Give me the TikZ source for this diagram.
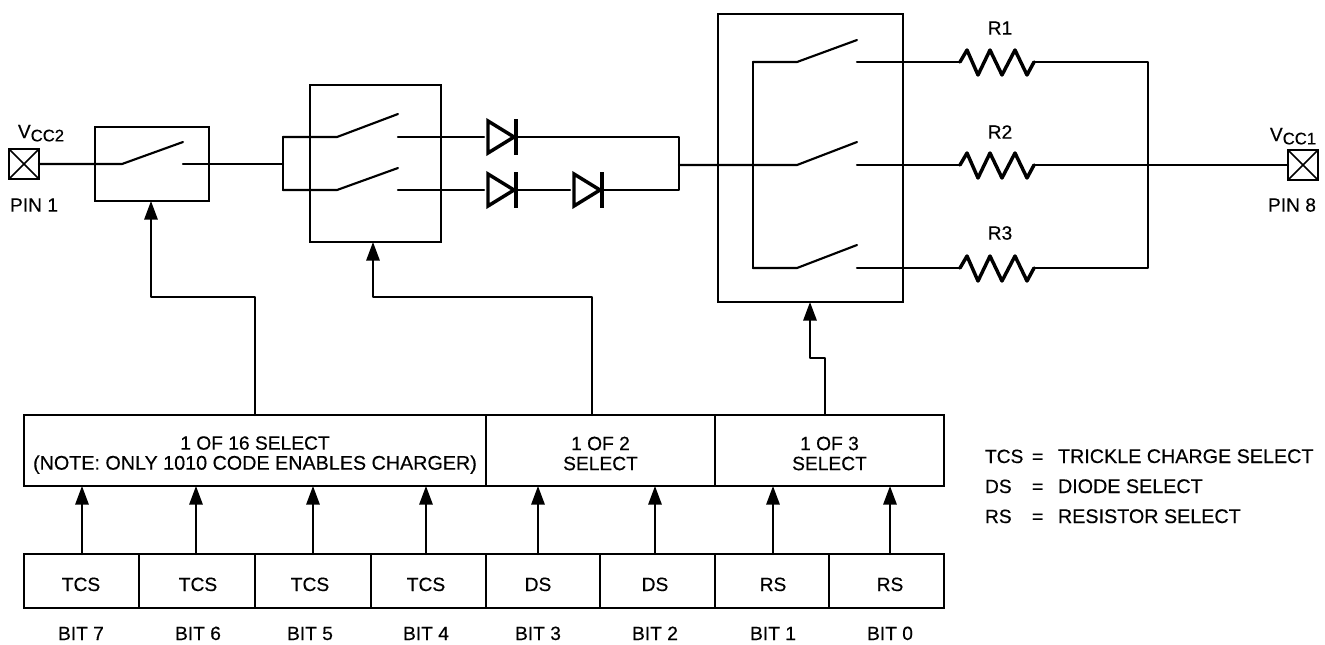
\documentclass[tikz,border=0pt]{standalone}
\usepackage{fontspec}
\setmainfont{Liberation Sans}[FakeBold=0.35]
\usetikzlibrary{arrows.meta}
\tikzset{
    wire/.style={line width=1.6pt,line cap=round,line join=round},
    sigarrow/.style={wire,-{Triangle[length=14pt,width=10pt]}},
    sized/.style 2 args={minimum width=#1*0.75pt,minimum height=#2*0.75pt,inner sep=0pt,outer sep=0pt},
    block/.style 2 args={draw,line width=1.6pt,sized={#1}{#2}},
    txt/.style={inner sep=0pt,outer sep=0pt,align=center,font=\fontsize{14.4}{15}\selectfont},
    diode/.pic={
        \draw[line width=2.6pt,line join=miter] (-13,-16) -- (13,0) -- (-13,16) -- cycle;
        \draw[line width=2.6pt] (15,-18) -- (15,18);
    },
    zigzag/.pic={
        \draw[line width=2.6pt,line join=round,line cap=round] (-37,0) -- (-30,-12) -- (-19,13) -- (-7,-12) -- (5,13) -- (18,-12) -- (30,13) -- (37,0);
    }
}
\begin{document}
\begin{tikzpicture}[x=0.75pt,y=-0.75pt]
    \useasboundingbox (0,0) rectangle (1325,644);

    % switch boxes
    \node[block={114}{74}] (boxa) at (152,164) {};
    \node[block={131}{157}] (boxb) at (375.5,163.5) {};
    \node[block={185}{288}] (boxc) at (810.5,158) {};

    % pins
    \node[block={30}{30}] (pina) at (24,164) {};
    \node[block={30}{30}] (pinb) at (1303,165) {};
    \draw[line width=1.2pt] (pina.north west) -- (pina.south east);
    \draw[line width=1.2pt] (pina.north east) -- (pina.south west);
    \draw[line width=1.2pt] (pinb.north west) -- (pinb.south east);
    \draw[line width=1.2pt] (pinb.north east) -- (pinb.south west);
    \node[txt,anchor=base] (vcca) at (41,138) {V\raisebox{-2.5pt}{\fontsize{12.5}{13}\selectfont CC2}};
    \node[txt] (pinla) at (34,205) {PIN 1};
    \node[txt,anchor=base] (vccb) at (1293,141) {V\raisebox{-2.5pt}{\fontsize{12.5}{13}\selectfont CC1}};
    \node[txt] (pinlb) at (1292,205) {PIN 8};

    % first switch
    \coordinate (hingea) at (122,164);
    \coordinate (tipa) at (183,142);
    \coordinate (conta) at (183,164);
    \coordinate (joinb) at (283,164);
    \draw[wire] (pina.east) -- (hingea) -- (tipa);
    \draw[wire] (conta) -- (joinb);

    % second switch
    \coordinate (joinbt) at (283,137);
    \coordinate (joinbb) at (283,190);
    \coordinate (hingeb) at (337,137);
    \coordinate (tipb) at (398,114);
    \coordinate (contb) at (398,137);
    \coordinate (hingec) at (337,190);
    \coordinate (tipc) at (398,168);
    \coordinate (contc) at (398,190);
    \draw[wire] (joinbt) -- (joinbb);
    \draw[wire] (joinbt) -- (hingeb) -- (tipb);
    \draw[wire] (joinbb) -- (hingec) -- (tipc);

    % diodes
    \node[sized={34}{36}] (diodea) at (501,137) {};
    \node[sized={34}{36}] (diodeb) at (501,190) {};
    \node[sized={34}{36}] (diodec) at (587,190) {};
    \pic at (diodea) {diode};
    \pic at (diodeb) {diode};
    \pic at (diodec) {diode};
    \coordinate (joincb) at (679,190);
    \coordinate (joinct) at (679,137);
    \coordinate (joinc) at (679,165);
    \draw[wire] (contb) -- (contb -| diodea.west);
    \draw[wire] (contc) -- (contc -| diodeb.west);
    \draw[wire] (diodea.east) -- (joinct) -- (joincb) -- (diodec.east);
    \draw[wire] (diodeb.east) -- (diodec.west);

    % third switch
    \coordinate (busa) at (753,62);
    \coordinate (busb) at (753,268);
    \coordinate (hinged) at (797,62);
    \coordinate (tipd) at (857,40);
    \coordinate (contd) at (857,62);
    \coordinate (hingee) at (797,165);
    \coordinate (tipe) at (857,142);
    \coordinate (conte) at (857,165);
    \coordinate (hingef) at (797,268);
    \coordinate (tipf) at (857,245);
    \coordinate (contf) at (857,268);
    \draw[wire] (busa) -- (busb);
    \draw[wire] (tipd) -- (hinged) -- (busa);
    \draw[wire] (joinc) -- (hingee) -- (tipe);
    \draw[wire] (tipf) -- (hingef) -- (busb);

    % resistors
    \node[sized={74}{30}] (resa) at (997,62) {};
    \node[sized={74}{30}] (resb) at (997,165) {};
    \node[sized={74}{30}] (resc) at (997,268) {};
    \pic at (resa) {zigzag};
    \pic at (resb) {zigzag};
    \pic at (resc) {zigzag};
    \node[txt] (labra) at (1000,28) {R1};
    \node[txt] (labrb) at (1000,132) {R2};
    \node[txt] (labrc) at (1000,233) {R3};
    \coordinate (busc) at (1148,62);
    \coordinate (busd) at (1148,268);
    \draw[wire] (contd) -- (resa.west);
    \draw[wire] (conte) -- (resb.west);
    \draw[wire] (contf) -- (resc.west);
    \draw[wire] (resa.east) -- (busc) -- (busd) -- (resc.east);
    \draw[wire] (resb.east) -- (pinb.west);

    % select row
    \node[block={462}{71}] (selx) at (255,450.5) {};
    \node[block={229}{71}] (sely) at (600.5,450.5) {};
    \node[block={229}{71}] (selz) at (829.5,450.5) {};
    \node[txt] (labx) at (255,455) {1 OF 16 SELECT\\\fontsize{14.8}{15}\selectfont (NOTE: ONLY 1010 CODE ENABLES CHARGER)};
    \node[txt] (laby) at (600.5,453.5) {1 OF 2\\SELECT};
    \node[txt] (labz) at (829.5,453.5) {1 OF 3\\SELECT};

    % control arrows
    \coordinate (cornera) at (151,297);
    \coordinate (enda) at (151,201);
    \coordinate (taga) at (592,415);
    \coordinate (cornerb) at (373,297);
    \coordinate (endb) at (373,242);
    \coordinate (tagb) at (825,415);
    \coordinate (cornerc) at (810,358);
    \coordinate (endc) at (810,302);
    \draw[sigarrow] (selx.north) |- (cornera) -- (enda);
    \draw[sigarrow] (taga) |- (cornerb) -- (endb);
    \draw[sigarrow] (tagb) |- (cornerc) -- (endc);

    % bit row
    \foreach \n/\t/\x/\w/\a/\l in {7/TCS/81.5/115/82/81,6/TCS/197/116/196/198,5/TCS/313/116/313/310,4/TCS/428.5/115/426/426,3/DS/543/114/538/538,2/DS/657.5/115/655/655,1/RS/772/114/773/773,0/RS/886.5/115/890/890}{
        \node[block={\w}{54}] (bit\n) at (\x,581) {};
        \node[txt,anchor=base] (labt\n) at (\l,591) {\t};
        \node[txt,anchor=base] (labb\n) at (\l,640) {BIT \n};
        \coordinate (tap\n) at (\a,486);
        \draw[sigarrow] (tap\n |- bit\n.north) -- (tap\n);
    }

    % legend
    \foreach \y/\k/\v in {463/TCS/TRICKLE CHARGE SELECT,493/DS/DIODE SELECT,523/RS/RESISTOR SELECT}{
        \node[txt,anchor=base west] (lega\k) at (985,\y) {\k};
        \node[txt,anchor=base west] (legb\k) at (1032,\y) {=};
        \node[txt,anchor=base west,font=\fontsize{14.8}{15}\selectfont] (legc\k) at (1058,\y) {\v};
    }
\end{tikzpicture}
\end{document}
